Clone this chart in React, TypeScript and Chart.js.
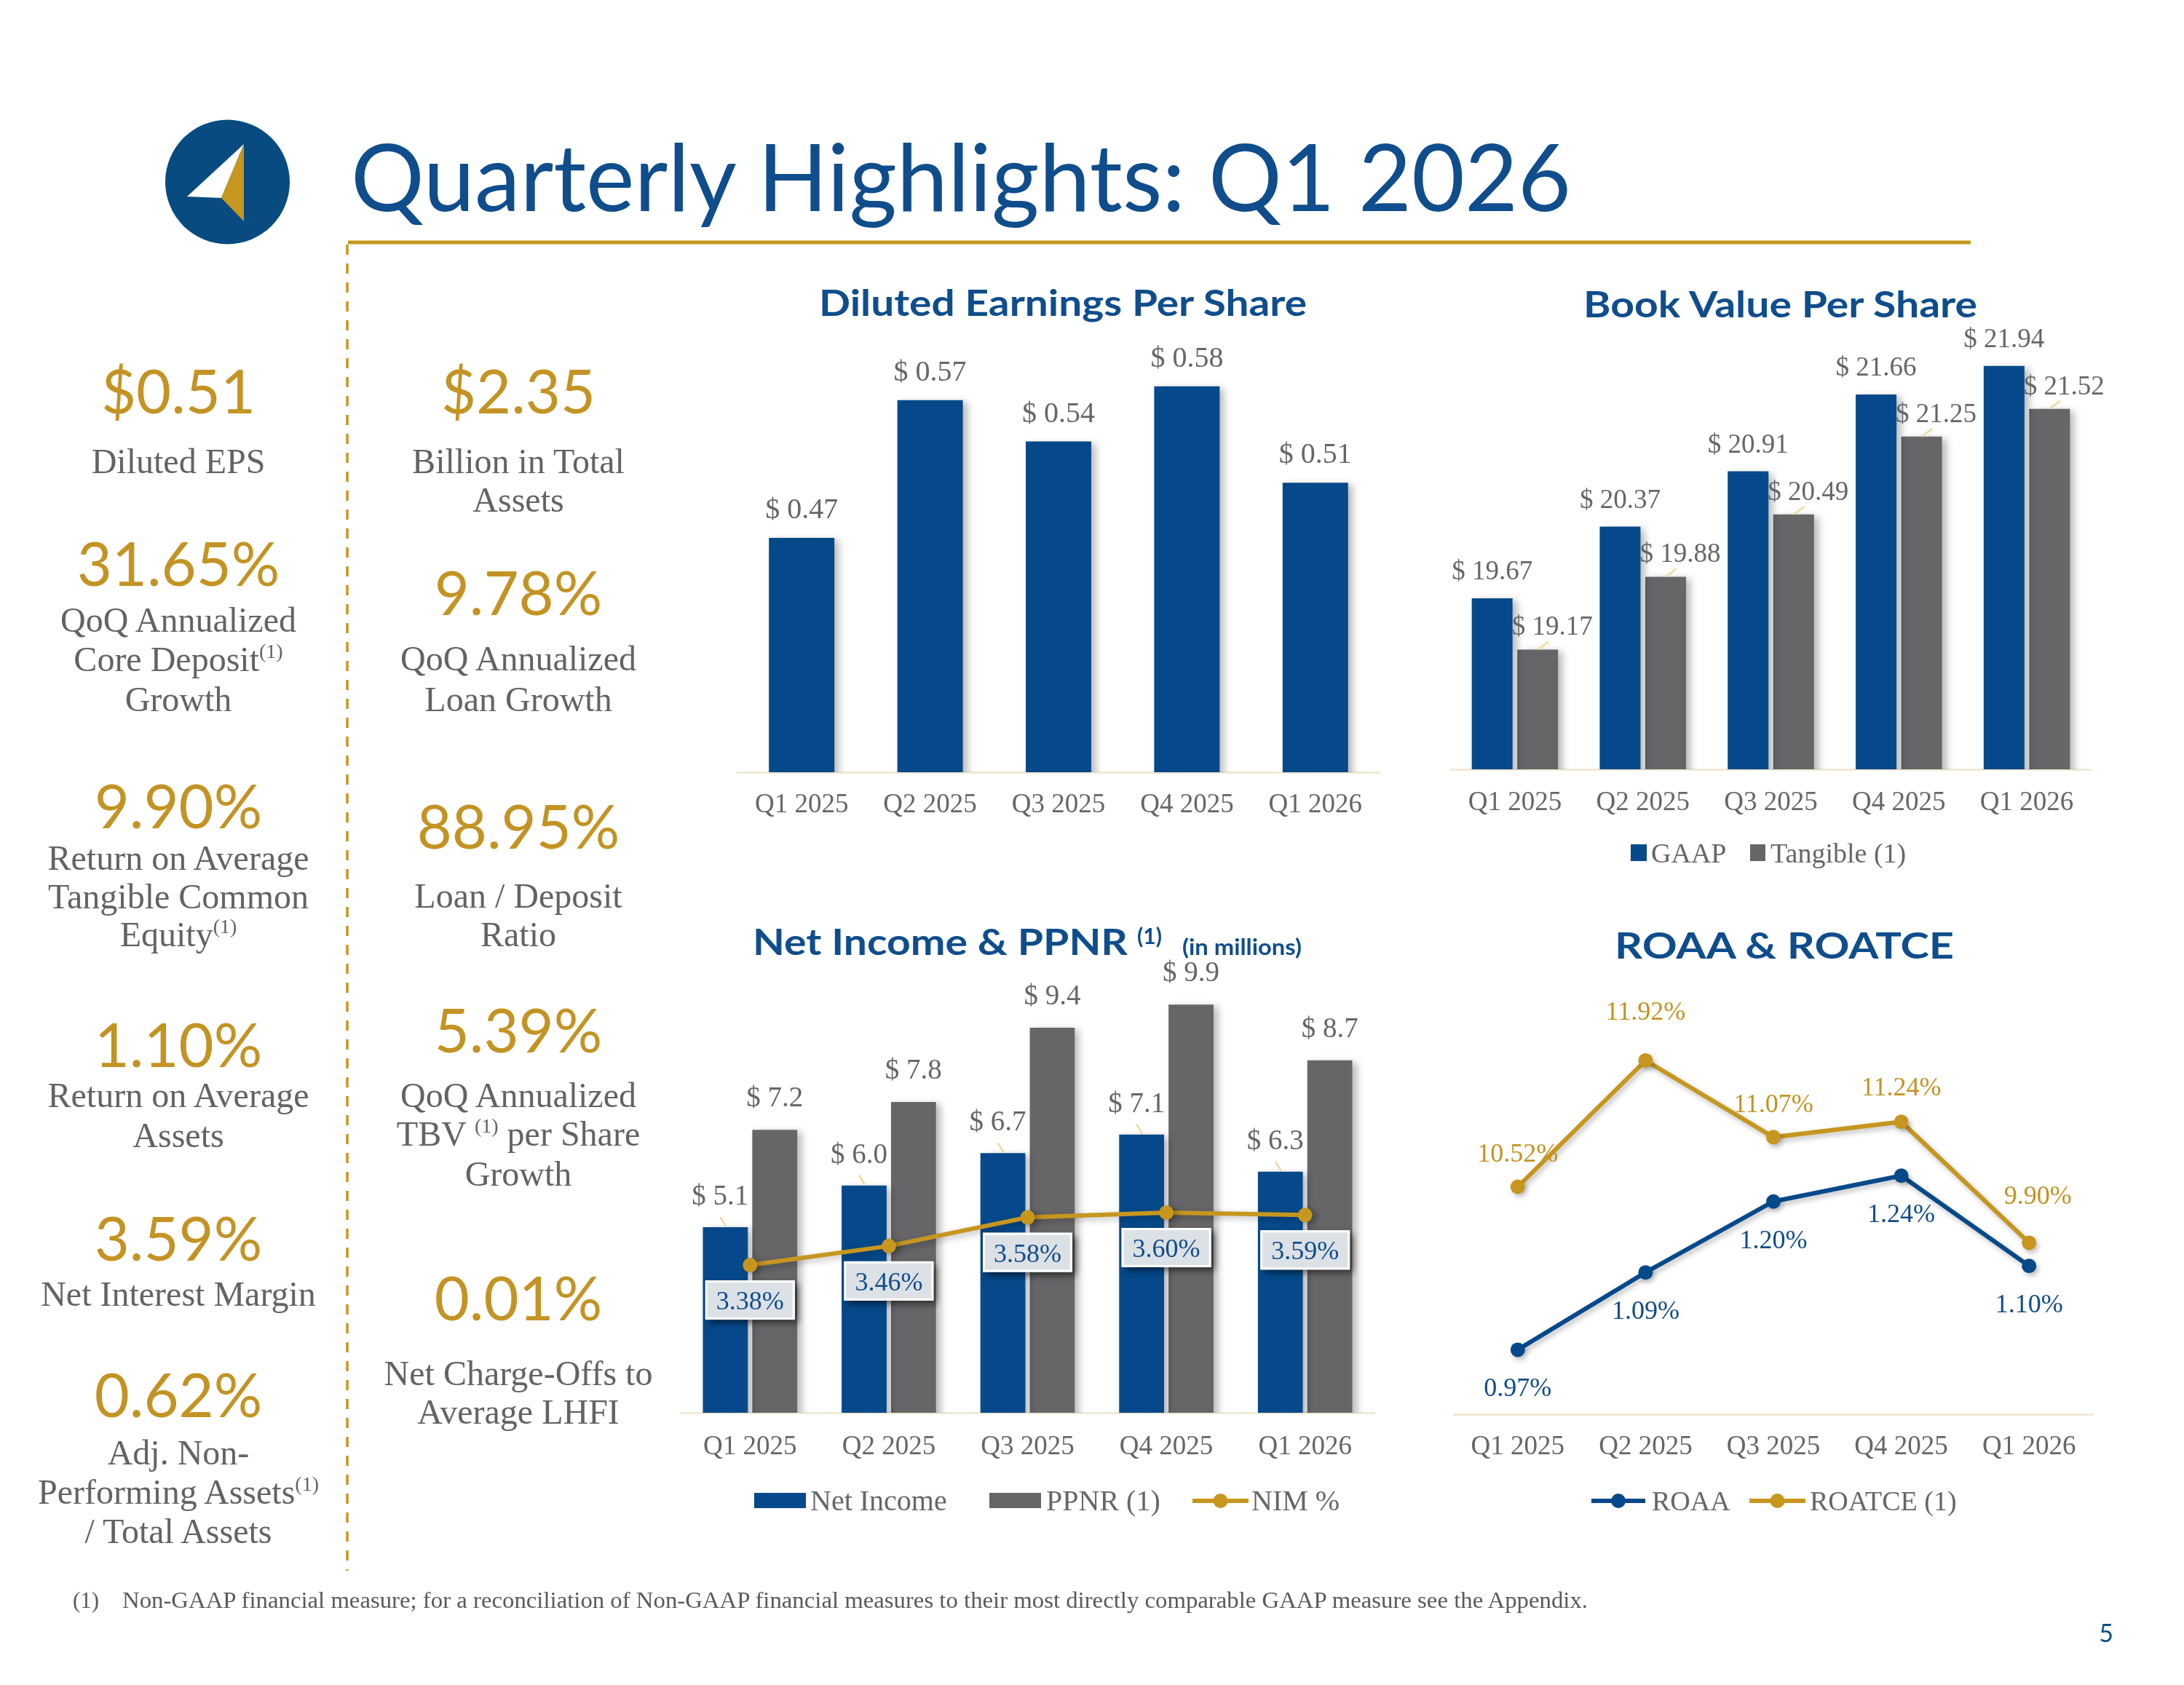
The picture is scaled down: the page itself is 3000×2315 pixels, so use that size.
import React, { useEffect, useRef } from 'react';
import { Chart, registerables } from 'chart.js';

Chart.register(...registerables);

// ---------- data ----------
const QUARTERS = ['Q1 2025', 'Q2 2025', 'Q3 2025', 'Q4 2025', 'Q1 2026'];
const DILUTED_EPS = [0.47, 0.57, 0.54, 0.58, 0.51];
const BVPS_GAAP = [19.67, 20.37, 20.91, 21.66, 21.94];
const BVPS_TANGIBLE = [19.17, 19.88, 20.49, 21.25, 21.52];
const NET_INCOME = [5.1, 6.0, 6.7, 7.1, 6.3];
const PPNR = [7.2, 7.8, 9.4, 9.9, 8.7];
const NIM = [3.38, 3.46, 3.58, 3.6, 3.59];
const ROAA = [0.97, 1.09, 1.2, 1.24, 1.1];
const ROATCE = [10.52, 11.92, 11.07, 11.24, 9.9];

const KPI_LEFT_VALUES = ['$0.51', '31.65%', '9.90%', '1.10%', '3.59%', '0.62%'];
const KPI_LEFT_LABELS = [
  ['Diluted EPS'],
  ['QoQ Annualized', 'Core Deposit^', 'Growth'],
  ['Return on Average', 'Tangible Common', 'Equity^'],
  ['Return on Average', 'Assets'],
  ['Net Interest Margin'],
  ['Adj. Non-', 'Performing Assets^', '/ Total Assets'],
];
const KPI_RIGHT_VALUES = ['$2.35', '9.78%', '88.95%', '5.39%', '0.01%'];
const KPI_RIGHT_LABELS = [
  ['Billion in Total', 'Assets'],
  ['QoQ Annualized', 'Loan Growth'],
  ['Loan / Deposit', 'Ratio'],
  ['QoQ Annualized', 'TBV ^ per Share', 'Growth'],
  ['Net Charge-Offs to', 'Average LHFI'],
];

// ---------- layout (baselines of the KPI blocks) ----------
const KPI_LEFT_LAYOUT = [
  { value: 568, lines: [650] },
  { value: 805, lines: [868, 922, 977] },
  { value: 1138, lines: [1195, 1248, 1300] },
  { value: 1466, lines: [1521, 1576] },
  { value: 1732, lines: [1794] },
  { value: 1947, lines: [2012, 2066, 2120] },
];
const KPI_RIGHT_LAYOUT = [
  { value: 568, lines: [650, 703] },
  { value: 845, lines: [921, 977] },
  { value: 1166, lines: [1247, 1300] },
  { value: 1446, lines: [1521, 1574, 1629] },
  { value: 1814, lines: [1903, 1956] },
];

// ---------- styles ----------
const SERIF = "'Liberation Serif', 'Times New Roman', serif";
const SANS = "Lato, 'Open Sans', sans-serif";
const BLUE = '#05498A';
const TITLE_BLUE = '#0F4D8C';
const GRAY_BAR = '#666668';
const GOLD = '#C6961F';
const GOLD_TEXT = '#C39323';
const GRAY_TEXT = '#666666';
const AXIS = '#F0EAD6';
const LEADER = '#EEDA9C';
const LABEL_BLUE = '#124C8A';

Chart.defaults.font.family = SERIF;

type Shadow = { color: string; blur: number; dx: number; dy: number };
type LabelSpec = {
  dataset: number;
  text: (v: number) => string;
  color: string;
  size: number;
  lift: number | number[];
  dx?: number | number[];
  leader?: [number, number, number, number];
  box?: { w: number; h: number; dy: number };
};

const pick = (v: number | number[] | undefined, i: number) =>
  v === undefined ? 0 : Array.isArray(v) ? v[i] : v;

// Shadow under the marks, then value labels / callouts on top.
function decorations(specs: LabelSpec[], shadow?: Shadow) {
  return {
    id: 'decorations',
    beforeDatasetsDraw(chart: any) {
      const ctx = chart.ctx;
      ctx.save();
      if (shadow) {
        ctx.shadowColor = shadow.color;
        ctx.shadowBlur = shadow.blur;
        ctx.shadowOffsetX = shadow.dx;
        ctx.shadowOffsetY = shadow.dy;
      }
    },
    afterDatasetsDraw(chart: any) {
      const ctx = chart.ctx;
      ctx.restore();
      ctx.save();
      specs.forEach((s) => {
        const meta = chart.getDatasetMeta(s.dataset);
        const values = chart.data.datasets[s.dataset].data as number[];
        meta.data.forEach((el: any, i: number) => {
          const { x, y } = el.getProps(['x', 'y'], true);
          const text = s.text(values[i]);
          ctx.font = `${s.size}px ${SERIF}`;
          ctx.textAlign = 'center';
          ctx.textBaseline = 'alphabetic';
          if (s.leader) {
            const [a, b, c, d] = s.leader;
            ctx.strokeStyle = LEADER;
            ctx.lineWidth = 2.5;
            ctx.beginPath();
            ctx.moveTo(x + a, y + b);
            ctx.lineTo(x + c, y + d);
            ctx.stroke();
          }
          if (s.box) {
            const cy = y + s.box.dy;
            const bx = x - s.box.w / 2;
            const by = cy - s.box.h / 2;
            ctx.save();
            ctx.shadowColor = 'rgba(0,0,0,0.55)';
            ctx.shadowBlur = 9;
            ctx.shadowOffsetX = 5;
            ctx.shadowOffsetY = 5;
            ctx.fillStyle = '#DCE1E6';
            ctx.fillRect(bx, by, s.box.w, s.box.h);
            ctx.restore();
            ctx.strokeStyle = '#FFFFFF';
            ctx.lineWidth = 3;
            ctx.strokeRect(bx + 1.5, by + 1.5, s.box.w - 3, s.box.h - 3);
            ctx.fillStyle = s.color;
            ctx.fillText(text, x, cy + 13);
            return;
          }
          ctx.fillStyle = s.color;
          ctx.fillText(text, x + pick(s.dx, i), y - pick(s.lift, i));
        });
      });
      ctx.restore();
    },
  };
}

const BAR_SHADOW: Shadow = { color: 'rgba(0,0,0,0.28)', blur: 10, dx: 6, dy: 3 };
const LINE_SHADOW: Shadow = { color: 'rgba(0,0,0,0.25)', blur: 7, dx: 3, dy: 4 };

function xAxis(tickPad: number, size = 37) {
  return {
    type: 'category',
    offset: true,
    grid: { display: false, drawTicks: false },
    border: { display: true, color: AXIS, width: 3 },
    ticks: {
      color: GRAY_TEXT,
      font: { family: SERIF, size },
      padding: tickPad,
      maxRotation: 0,
      autoSkip: false,
    },
    afterFit: (s: any) => {
      s.height = 80;
    },
  };
}

function baseOptions(padding: any, tickPad: number, yScales: any) {
  return {
    responsive: false,
    animation: false,
    devicePixelRatio: 1,
    layout: { padding },
    plugins: { legend: { display: false }, tooltip: { enabled: false } },
    scales: { x: xAxis(tickPad), ...yScales },
  };
}

const epsConfig = () => ({
  type: 'bar',
  data: {
    labels: QUARTERS,
    datasets: [
      { data: DILUTED_EPS, backgroundColor: BLUE, borderWidth: 0, barPercentage: 0.51, categoryPercentage: 1 },
    ],
  },
  options: baseOptions({ left: 13, right: 15, top: 15, bottom: 0 }, 23, {
    y: { display: false, min: 0.3, max: 0.62 },
  }),
  plugins: [
    decorations(
      [{ dataset: 0, text: (v) => `$ ${v.toFixed(2)}`, color: GRAY_TEXT, size: 40, lift: 27 }],
      BAR_SHADOW
    ),
  ],
});

const bvpsConfig = () => ({
  type: 'bar',
  data: {
    labels: QUARTERS,
    datasets: [
      { label: 'GAAP', data: BVPS_GAAP, backgroundColor: BLUE, borderWidth: 0, barPercentage: 0.896, categoryPercentage: 0.711 },
      { label: 'Tangible (1)', data: BVPS_TANGIBLE, backgroundColor: GRAY_BAR, borderWidth: 0, barPercentage: 0.896, categoryPercentage: 0.711 },
    ],
  },
  options: baseOptions({ left: 13, right: 18, top: 15, bottom: 0 }, 24, {
    y: { display: false, min: 18, max: 22.3 },
  }),
  plugins: [
    decorations(
      [
        { dataset: 0, text: (v) => `$ ${v.toFixed(2)}`, color: GRAY_TEXT, size: 37, lift: 26 },
        { dataset: 1, text: (v) => `$ ${v.toFixed(2)}`, color: GRAY_TEXT, size: 37, lift: 20, dx: 20, leader: [0, 0, 15, -11] },
      ],
      BAR_SHADOW
    ),
  ],
});

const incomeConfig = () => ({
  type: 'bar',
  data: {
    labels: QUARTERS,
    datasets: [
      { label: 'Net Income', data: NET_INCOME, yAxisID: 'y', order: 1, backgroundColor: BLUE, borderWidth: 0, barPercentage: 0.91, categoryPercentage: 0.712 },
      { label: 'PPNR (1)', data: PPNR, yAxisID: 'y', order: 1, backgroundColor: GRAY_BAR, borderWidth: 0, barPercentage: 0.91, categoryPercentage: 0.712 },
      {
        type: 'line', label: 'NIM %', data: NIM, yAxisID: 'y2', order: 0,
        borderColor: GOLD, backgroundColor: GOLD, borderWidth: 6, tension: 0,
        pointRadius: 10, pointHoverRadius: 10, pointBorderWidth: 0, pointBackgroundColor: GOLD, clip: false,
      },
    ],
  },
  options: baseOptions({ left: 9, right: 12, top: 42, bottom: 0 }, 25, {
    y: { display: false, min: 1.1, max: 10.5 },
    y2: { display: false, position: 'right', min: 2.76, max: 4.59 },
  }),
  plugins: [
    decorations(
      [
        { dataset: 0, text: (v) => `$ ${v.toFixed(1)}`, color: GRAY_TEXT, size: 39, lift: 31, dx: -7, leader: [1, -1, -7, -14] },
        { dataset: 1, text: (v) => `$ ${v.toFixed(1)}`, color: GRAY_TEXT, size: 39, lift: 32 },
        { dataset: 2, text: (v) => `${v.toFixed(2)}%`, color: LABEL_BLUE, size: 36, lift: 0, box: { w: 123, h: 54, dy: 48 } },
      ],
      BAR_SHADOW
    ),
  ],
});

const returnsConfig = () => ({
  type: 'line',
  data: {
    labels: QUARTERS,
    datasets: [
      {
        label: 'ROAA', data: ROAA, yAxisID: 'y', borderColor: BLUE, backgroundColor: BLUE,
        borderWidth: 6, tension: 0, pointRadius: 10, pointHoverRadius: 10, pointBorderWidth: 0,
        pointBackgroundColor: BLUE, clip: false,
      },
      {
        label: 'ROATCE (1)', data: ROATCE, yAxisID: 'y2', borderColor: GOLD, backgroundColor: GOLD,
        borderWidth: 6, tension: 0, pointRadius: 10, pointHoverRadius: 10, pointBorderWidth: 0,
        pointBackgroundColor: GOLD, clip: false,
      },
    ],
  },
  options: baseOptions({ left: 12, right: 15, top: 55, bottom: 0 }, 23, {
    y: { display: false, min: 0.87, max: 1.5 },
    y2: { display: false, position: 'right', min: 8, max: 12.5 },
  }),
  plugins: [
    decorations(
      [
        { dataset: 0, text: (v) => `${v.toFixed(2)}%`, color: LABEL_BLUE, size: 36, lift: -64 },
        { dataset: 1, text: (v) => `${v.toFixed(2)}%`, color: GOLD_TEXT, size: 36, lift: [35, 56, 34, 36, 53], dx: [0, 0, 0, 0, 12] },
      ],
      LINE_SHADOW
    ),
  ],
});

function ChartBox({ left, top, width, height, make }: { left: number; top: number; width: number; height: number; make: () => any }) {
  const ref = useRef<HTMLCanvasElement>(null);
  useEffect(() => {
    const chart = new Chart(ref.current as HTMLCanvasElement, make());
    return () => chart.destroy();
  }, []);
  return (
    <div style={{ position: 'absolute', left, top, width, height }}>
      <canvas ref={ref} width={width} height={height} style={{ width, height, display: 'block' }} />
    </div>
  );
}

function LabelLine({ x, y, text }: { x: number; y: number; text: string }) {
  const parts = text.split('^');
  return (
    <text x={x} y={y} textAnchor="middle" fontFamily={SERIF} fontSize={48} fill="#636363">
      {parts.map((p, i) => (
        <React.Fragment key={i}>
          {i > 0 && (
            <tspan fontSize={28} dy={-18}>
              (1)
            </tspan>
          )}
          {i > 0 ? <tspan dy={18}>{p}</tspan> : p}
        </React.Fragment>
      ))}
    </text>
  );
}

function KpiColumn({ x, values, labels, layout }: { x: number; values: string[]; labels: string[][]; layout: { value: number; lines: number[] }[] }) {
  return (
    <g>
      {values.map((v, i) => (
        <g key={i}>
          <text x={x} y={layout[i].value} textAnchor="middle" fontFamily={SANS} fontSize={83} fill={GOLD_TEXT}>
            {v}
          </text>
          {labels[i].map((line, j) => (
            <LabelLine key={j} x={x} y={layout[i].lines[j]} text={line} />
          ))}
        </g>
      ))}
    </g>
  );
}

function LineKey({ x1, x2, y, color }: { x1: number; x2: number; y: number; color: string }) {
  return (
    <g>
      <line x1={x1} x2={x2} y1={y} y2={y} stroke={color} strokeWidth={6} />
      <circle cx={(x1 + x2) / 2} cy={y} r={10} fill={color} />
    </g>
  );
}

export default function App() {
  return (
    <div style={{ position: 'absolute', left: 0, top: 0, width: 3000, height: 2315, background: '#FFFFFF', overflow: 'hidden' }}>
      <ChartBox left={1000} top={440} width={910} height={701} make={epsConfig} />
      <ChartBox left={1980} top={437} width={910} height={700} make={bvpsConfig} />
      <ChartBox left={925} top={1300} width={975} height={721} make={incomeConfig} />
      <ChartBox left={1985} top={1330} width={905} height={693} make={returnsConfig} />

      <svg width={3000} height={2315} style={{ position: 'absolute', left: 0, top: 0, pointerEvents: 'none' }}>
        {/* logo */}
        <circle cx={312.5} cy={250} r={85.5} fill="#074B80" />
        <polygon points="257,270 335,198 304,272" fill="#FFFFFF" />
        <polygon points="335,198 304,272 335,304" fill={GOLD} />

        {/* heading */}
        <text x={482} y={290} fontFamily={SANS} fontSize={128} fill={TITLE_BLUE} textLength={1676} lengthAdjust="spacingAndGlyphs">
          Quarterly Highlights: Q1 2026
        </text>
        <line x1={478} x2={2707} y1={333} y2={333} stroke={GOLD} strokeWidth={5} />
        <line x1={477} x2={477} y1={336} y2={2158} stroke={GOLD} strokeWidth={3.5} strokeDasharray="14 12" />

        {/* KPI columns */}
        <KpiColumn x={245} values={KPI_LEFT_VALUES} labels={KPI_LEFT_LABELS} layout={KPI_LEFT_LAYOUT} />
        <KpiColumn x={712} values={KPI_RIGHT_VALUES} labels={KPI_RIGHT_LABELS} layout={KPI_RIGHT_LAYOUT} />

        {/* chart titles */}
        <text x={1125} y={434} fontFamily={SANS} fontWeight={700} fontSize={50} fill={TITLE_BLUE} textLength={670} lengthAdjust="spacingAndGlyphs">
          Diluted Earnings Per Share
        </text>
        <text x={2175} y={436} fontFamily={SANS} fontWeight={700} fontSize={50} fill={TITLE_BLUE} textLength={541} lengthAdjust="spacingAndGlyphs">
          Book Value Per Share
        </text>
        <text x={1034} y={1312} fontFamily={SANS} fontWeight={700} fontSize={50} fill={TITLE_BLUE} textLength={515} lengthAdjust="spacingAndGlyphs">
          Net Income &amp; PPNR
        </text>
        <text x={1562} y={1297} fontFamily={SANS} fontWeight={700} fontSize={30} fill={TITLE_BLUE}>
          (1)
        </text>
        <text x={1624} y={1312} fontFamily={SANS} fontWeight={700} fontSize={31} fill={TITLE_BLUE} textLength={164} lengthAdjust="spacingAndGlyphs">
          (in millions)
        </text>
        <text x={2218} y={1317} fontFamily={SANS} fontWeight={700} fontSize={50} fill={TITLE_BLUE} textLength={466} lengthAdjust="spacingAndGlyphs">
          ROAA &amp; ROATCE
        </text>

        {/* legends */}
        <g fontFamily={SERIF} fill={GRAY_TEXT}>
          <rect x={2240} y={1160} width={22} height={23} fill={BLUE} />
          <text x={2268} y={1185} fontSize={38}>GAAP</text>
          <rect x={2404} y={1160} width={21} height={23} fill={GRAY_BAR} />
          <text x={2432} y={1185} fontSize={38}>Tangible (1)</text>

          <rect x={1036} y={2051} width={71} height={21} fill={BLUE} />
          <text x={1113} y={2075} fontSize={40}>Net Income</text>
          <rect x={1359} y={2051} width={71} height={21} fill={GRAY_BAR} />
          <text x={1437} y={2075} fontSize={40}>PPNR (1)</text>
          <LineKey x1={1638} x2={1715} y={2062} color={GOLD} />
          <text x={1719} y={2075} fontSize={40}>NIM %</text>

          <LineKey x1={2186} x2={2260} y={2062} color={BLUE} />
          <text x={2269} y={2075} fontSize={38}>ROAA</text>
          <LineKey x1={2403} x2={2480} y={2062} color={GOLD} />
          <text x={2486} y={2075} fontSize={38}>ROATCE (1)</text>
        </g>

        {/* footnote and page number */}
        <text x={100} y={2209} fontFamily={SERIF} fontSize={31} fill="#595959">(1)</text>
        <text x={168} y={2209} fontFamily={SERIF} fontSize={31} fill="#595959" textLength={2013} lengthAdjust="spacingAndGlyphs">
          Non-GAAP financial measure; for a reconciliation of Non-GAAP financial measures to their most directly comparable GAAP measure see the Appendix.
        </text>
        <text x={2893} y={2256} textAnchor="middle" fontFamily={SANS} fontSize={34} fill={TITLE_BLUE}>5</text>
      </svg>
    </div>
  );
}
